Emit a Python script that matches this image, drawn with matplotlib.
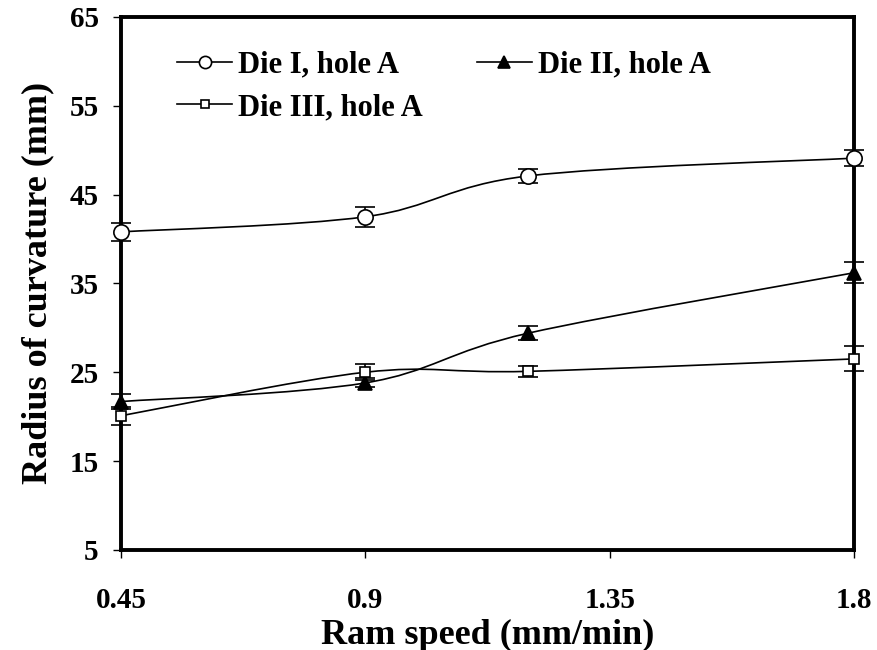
import matplotlib
matplotlib.use("Agg")
import matplotlib.pyplot as plt
from matplotlib.path import Path
from matplotlib.patches import PathPatch
import numpy as np

# data
ram_speed = [0.45, 0.9, 1.2, 1.8]
die1 = [40.8, 42.5, 47.1, 49.1]
die1_err = [1.0, 1.1, 0.8, 0.9]
die2 = [21.7, 23.8, 29.4, 36.2]
die2_err = [0.8, 0.5, 0.8, 1.2]
die3 = [20.1, 25.0, 25.1, 26.5]
die3_err = [1.0, 0.9, 0.6, 1.4]

labels = ["Die I, hole A", "Die II, hole A", "Die III, hole A"]
x_ticks = [0.45, 0.9, 1.35, 1.8]
y_ticks = [5, 15, 25, 35, 45, 55, 65]

plt.rcParams['font.family'] = ['Liberation Serif', 'DejaVu Serif']
plt.rcParams['font.weight'] = 'bold'


def smooth_path(x, y):
    # excel style smoothed line: catmull-rom turned into bezier segments
    p = np.column_stack([x, y]).astype(float)
    n = len(p)
    verts = [p[0]]
    codes = [Path.MOVETO]
    for i in range(n - 1):
        p_prev = p[i - 1] if i > 0 else p[i]
        p_next2 = p[i + 2] if i + 2 < n else p[i + 1]
        c1 = p[i] + (p[i + 1] - p_prev) / 6.0
        c2 = p[i + 1] - (p_next2 - p[i]) / 6.0
        verts += [c1, c2, p[i + 1]]
        codes += [Path.CURVE4] * 3
    return Path(verts, codes)


fig = plt.figure(figsize=(8.77, 6.5), dpi=100)
ax = fig.add_axes([0.138, 0.154, 0.836, 0.82])

series = [
    (die1, die1_err, 'o', 'white', 11),
    (die2, die2_err, '^', 'black', 10),
    (die3, die3_err, 's', 'white', 7.5),
]
handles = []
for (vals, err, mk, fc, ms), lab in zip(series, labels):
    ax.add_patch(PathPatch(smooth_path(ram_speed, vals), fill=False,
                           edgecolor='black', lw=1.2, zorder=2))
    ax.errorbar(ram_speed, vals, yerr=err, fmt='none', ecolor='black',
                elinewidth=1.2, capsize=7, capthick=1.2, zorder=3, clip_on=False)
    ax.plot(ram_speed, vals, linestyle='none', marker=mk, markersize=ms,
            markerfacecolor=fc, markeredgecolor='black', markeredgewidth=1.2,
            zorder=4, clip_on=False)
    h, = ax.plot([], [], color='black', lw=1.2, marker=mk,
                 markersize=ms * 0.8, markerfacecolor=fc,
                 markeredgecolor='black', markeredgewidth=1.2, label=lab)
    handles.append(h)

ax.set_xlim(0.45, 1.8)
ax.set_ylim(5, 65)
ax.set_xticks(x_ticks)
ax.set_xticklabels(['0.45', '0.9', '1.35', '1.8'])
ax.set_yticks(y_ticks)
ax.tick_params(direction='out', length=6, width=1, labelsize=21)
ax.tick_params(axis='x', pad=21)
ax.tick_params(axis='y', pad=10)
for s in ax.spines.values():
    s.set_linewidth(2.8)

ax.set_xlabel('Ram speed (mm/min)', fontsize=26, fontweight='bold', labelpad=3)
ax.set_ylabel('Radius of curvature (mm)', fontsize=26, fontweight='bold', labelpad=11)

ax.legend([handles[0], handles[2], handles[1]],
          [labels[0], labels[2], labels[1]],
          ncol=2, loc='upper left', bbox_to_anchor=(0.06, 0.96),
          frameon=False, fontsize=22, handlelength=1.8, handletextpad=0.2,
          columnspacing=1.75, labelspacing=0.45, borderaxespad=0)

fig.savefig('out.png', dpi=100)
